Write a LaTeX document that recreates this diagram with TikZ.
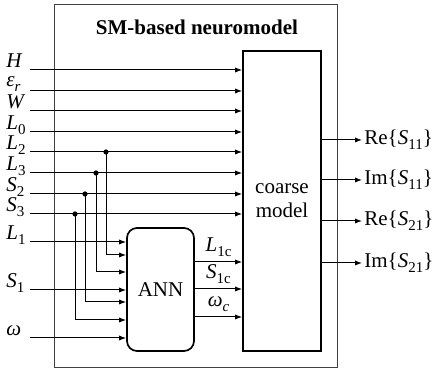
\documentclass[tikz,border=0pt]{standalone}
\usepackage{fontspec}
\setmainfont{Liberation Serif}
\usetikzlibrary{arrows.meta,positioning}
\newcommand{\lowsub}[1]{\raisebox{-0.5ex}{\fontsize{7.5}{8}\selectfont #1}}

\begin{document}
\fontsize{10.5}{12}\selectfont
\begin{tikzpicture}[
  x=0.5pt,y=-0.5pt,
  block/.style={draw,line width=0.85pt,align=center,inner sep=0pt},
  arrow/.style={-{Latex[length=3.5pt,width=2.6pt]},line width=0.5pt},
  inlabel/.style={anchor=base west,inner sep=0pt},
  outlabel/.style={anchor=west,inner sep=1pt},
  dot/.style={circle,fill,inner sep=0pt,minimum size=2.6pt}
]
\useasboundingbox (0,0) rectangle (434,373);
% outer frame
\node[draw=black!75,line width=0.5pt,minimum width=141.5pt,minimum height=181.5pt,inner sep=0pt] (sm) at (195.5,186.5) {};
\node[font=\bfseries] (title) at (197,27) {SM-based neuromodel};
% blocks
\node[block,minimum width=39pt,minimum height=150pt] (coarse) at (282,201) {coarse\\model};
\node[block,rounded corners=5pt,minimum width=33.5pt,minimum height=61.5pt] (ann) at (160.5,289.5) {ANN};
% input labels
\node[inlabel] (lH) at (6,67.5) {\textit{H}};
\node[inlabel] (lEr) at (6,87) {\textit{ε}\lowsub{\textit{r}}};
\node[inlabel] (lW) at (6,108.5) {\textit{W}};
\node[inlabel] (lL0) at (6,129.5) {\textit{L}\lowsub{0}};
\node[inlabel] (lL2) at (6,149.5) {\textit{L}\lowsub{2}};
\node[inlabel] (lL3) at (6,170.5) {\textit{L}\lowsub{3}};
\node[inlabel] (lS2) at (6,191.5) {\textit{S}\lowsub{2}};
\node[inlabel] (lS3) at (6,211.5) {\textit{S}\lowsub{3}};
\node[inlabel] (lL1) at (6,239.5) {\textit{L}\lowsub{1}};
\node[inlabel] (lS1) at (6,287.5) {\textit{S}\lowsub{1}};
\node[inlabel] (lOm) at (6,336) {\textit{ω}};
% line starts
\coordinate (sH) at (30,70);
\coordinate (sEr) at (30,91);
\coordinate (sW) at (30,111);
\coordinate (sL0) at (30,132);
\coordinate (sL2) at (30,152);
\coordinate (sL3) at (30,173);
\coordinate (sS2) at (30,194);
\coordinate (sS3) at (30,214);
\coordinate (sL1) at (30,242);
\coordinate (sS1) at (30,290);
\coordinate (sOm) at (30,338);
\draw[arrow] (sH) -- (sH -| coarse.west);
\draw[arrow] (sEr) -- (sEr -| coarse.west);
\draw[arrow] (sW) -- (sW -| coarse.west);
\draw[arrow] (sL0) -- (sL0 -| coarse.west);
\draw[arrow] (sL2) -- (sL2 -| coarse.west);
\draw[arrow] (sL3) -- (sL3 -| coarse.west);
\draw[arrow] (sS2) -- (sS2 -| coarse.west);
\draw[arrow] (sS3) -- (sS3 -| coarse.west);
\draw[arrow] (sL1) -- (sL1 -| ann.west);
\draw[arrow] (sS1) -- (sS1 -| ann.west);
\draw[arrow] (sOm) -- (sOm -| ann.west);
% branches into the ANN
\node[dot] (dL2) at (106,152) {};
\node[dot] (dL3) at (96,173) {};
\node[dot] (dS2) at (85,194) {};
\node[dot] (dS3) at (75,214) {};
\coordinate (aL2) at (106,255);
\coordinate (aL3) at (96,272);
\coordinate (aS2) at (85,302);
\coordinate (aS3) at (75,320);
\draw[arrow] (dL2.center) -- (aL2) -- (aL2 -| ann.west);
\draw[arrow] (dL3.center) -- (aL3) -- (aL3 -| ann.west);
\draw[arrow] (dS2.center) -- (aS2) -- (aS2 -| ann.west);
\draw[arrow] (dS3.center) -- (aS3) -- (aS3 -| ann.west);
% ANN outputs
\coordinate (cL1) at (194,262);
\coordinate (cS1) at (194,289);
\coordinate (cOm) at (194,317);
\draw[arrow] (cL1 -| ann.east) -- node[above=-1pt] {\textit{L}\lowsub{1c}} (cL1 -| coarse.west);
\draw[arrow] (cS1 -| ann.east) -- node[above=-1pt] {\textit{S}\lowsub{1c}} (cS1 -| coarse.west);
\draw[arrow] (cOm -| ann.east) -- node[above=-1pt] {\textit{ω}\lowsub{\textit{c}}} (cOm -| coarse.west);
% outputs
\node[outlabel] (re11) at (362,140) {Re\{\textit{S}\lowsub{11}\}};
\node[outlabel] (im11) at (362,180) {Im\{\textit{S}\lowsub{11}\}};
\node[outlabel] (re21) at (362,221) {Re\{\textit{S}\lowsub{21}\}};
\node[outlabel] (im21) at (362,263) {Im\{\textit{S}\lowsub{21}\}};
\draw[arrow] (re11.west -| coarse.east) -- (re11.west);
\draw[arrow] (im11.west -| coarse.east) -- (im11.west);
\draw[arrow] (re21.west -| coarse.east) -- (re21.west);
\draw[arrow] (im21.west -| coarse.east) -- (im21.west);
\end{tikzpicture}
\end{document}
